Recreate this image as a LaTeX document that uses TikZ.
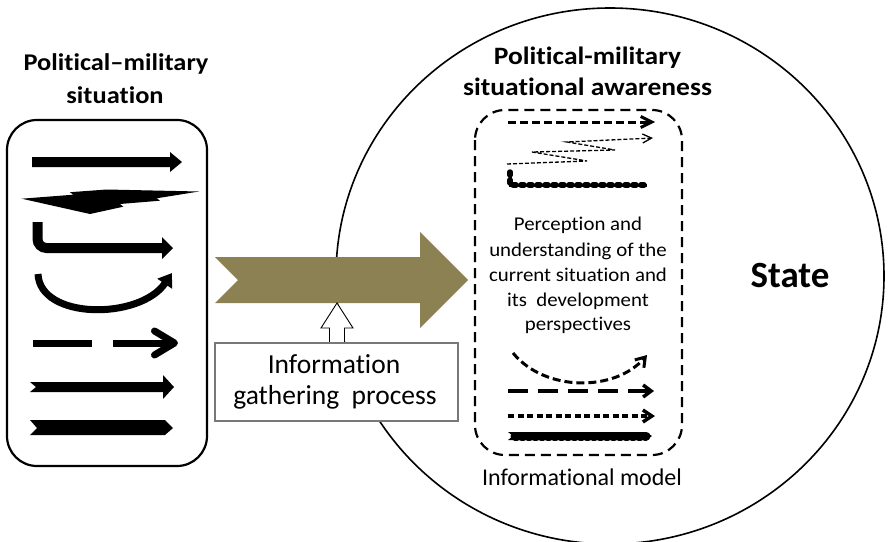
\documentclass[tikz,border=0pt]{standalone}
\usepackage{fontspec}
\usepackage{graphicx}
\setmainfont[Ligatures=NoCommon]{Carlito}
\usetikzlibrary{arrows.meta}
\definecolor{olivearrow}{RGB}{140,129,82}
\definecolor{boxgray}{RGB}{120,120,120}
\newcommand{\widetext}[2]{\scalebox{#1}[1]{#2}}
\begin{document}
\begin{tikzpicture}[x=1pt,y=-1pt,
  boldtitle/.style={font=\fontsize{24}{28}\selectfont\bfseries, anchor=base, inner sep=0},
  righttitle/.style={font=\fontsize{25}{28}\selectfont\bfseries, anchor=base, inner sep=0},
  bodytext/.style={font=\fontsize{19.5}{22}\selectfont, anchor=base, inner sep=0},
  infotext/.style={font=\fontsize{27.5}{30}\selectfont, anchor=base, inner sep=0},
  solidshape/.style={fill=black, draw=none},
  thickbar/.style={line width=7},
  dashline/.style={line width=3, dash pattern=on 8 off 4},
]
\useasboundingbox (0,0) rectangle (889,541);

% ---------- State circle ----------
\draw[line width=1.6] (610,276) ellipse [x radius=274, y radius=268];
\node[font=\fontsize{37}{40}\selectfont\bfseries, anchor=base, inner sep=0] (state) at (790,287) {State};

% ---------- Left box: political-military situation ----------
\node[boldtitle] (lt1) at (116,70.7) {\widetext{1.1}{Political–military}};
\node[boldtitle] (lt2) at (115,103.3) {\widetext{1.1}{situation}};
\draw[line width=2.2, rounded corners=30] (7,120) rectangle (207,466);

% 1 straight thick arrow
\fill[solidshape] (32,157) -- (170,157) -- (170,152) -- (182,162) -- (170,172) -- (170,167) -- (32,167) -- cycle;
% 2 lightning arrow
\fill[solidshape] (21.7,198.7) -- (73.3,194.7) -- (70,192.2) -- (106.7,189.5) -- (199,191.5)
  -- (156.7,198.3) -- (160,200.7) -- (120,204) -- (123.3,206.7) -- (90,214) -- cycle;
% 3 L-shaped arrow
\draw[line width=10, rounded corners=9] (37.5,222) -- (37.5,248) -- (163,248);
\fill[solidshape] (162,237) -- (173,248) -- (162,259) -- cycle;
% 4 arc arrow
\draw[line width=7, -{Triangle[length=13pt,width=17pt]}] (38,274) .. controls (40,320) and (140,320) .. (172,273);
% 5 dashed arrow
\draw[thickbar] (33,343) -- (92,343);
\draw[thickbar, -{Straight Barb[length=20pt,width=24pt,round]}] (113,343) -- (178,343);
% 6 notched arrow
\fill[solidshape] (30,382) -- (163,382) -- (163,375) -- (174,387) -- (163,399) -- (163,392) -- (30,392) -- (36,387) -- cycle;
% 7 chevron bar
\fill[solidshape] (30,420) -- (165,420) -- (173,428) -- (165,435) -- (30,435) -- (37,428) -- cycle;

% ---------- Big olive arrow ----------
\coordinate (flowtail) at (215,280);
\coordinate (flowtip) at (468,280);
\fill[olivearrow] (215,257) -- (420,257) -- (420,232) -- (flowtip) -- (420,328) -- (420,303) -- (215,303) -- (238,280) -- cycle;

% ---------- Information gathering ----------
\coordinate (hollowtip) at (337,303);
\draw[fill=white, line width=0.9] (hollowtip) -- (353,328) -- (344.5,328) -- (344.5,343) -- (329.5,343) -- (329.5,328) -- (321,328) -- cycle;
\node[draw=boxgray, fill=white, line width=1.2, minimum width=243, minimum height=78, inner sep=0] (info) at (336.5,382) {};
\node[infotext] (info1) at (334,373.3) {Information};
\node[infotext] (info2) at (335,404) {gathering\ \ process};

% ---------- Situational awareness ----------
\node[righttitle] (rt1) at (587.5,64) {\widetext{1.1}{Political-military}};
\node[righttitle] (rt2) at (587.5,95) {\widetext{1.1}{situational awareness}};
\draw[line width=2.2, dash pattern=on 10 off 6, rounded corners=30] (475,110) rectangle (682,455);

% a
\draw[dashline, -{Straight Barb[length=11pt,width=11pt]}] (508,122) -- (655,122);
% b zigzag
\draw[line width=1.3, dash pattern=on 4 off 2, -{Straight Barb[length=9pt,width=9pt]}]
  (507,164) -- (587,161) -- (532,152) -- (615,150) -- (567,142) -- (653,138);
% c beaded L
\draw[line width=3] (510,172) -- (510,185) -- (647,185);
\draw[line width=5.5, dash pattern=on 3 off 5, line cap=round] (510,172) -- (510,185) -- (647,185);

\node[bodytext] (p1) at (578,230.7) {\widetext{1.07}{Perception and}};
\node[bodytext] (p2) at (578,256) {\widetext{1.07}{understanding of the}};
\node[bodytext] (p3) at (578,281) {\widetext{1.07}{current situation and}};
\node[bodytext] (p4) at (578,306) {\widetext{1.07}{its\ \ development}};
\node[bodytext] (p5) at (578,330.7) {\widetext{1.07}{perspectives}};

% d dashed arc
\draw[dashline, -{Straight Barb[length=9pt,width=12pt]}] (513,353) .. controls (545,392) and (615,392) .. (647,355);
% e long dashed
\draw[line width=3.5, dash pattern=on 20 off 10, -{Straight Barb[length=8pt,width=12pt]}] (508,391) -- (654,391);
% f short dashed
\draw[line width=3.5, dash pattern=on 6 off 3.5, -{Straight Barb[length=9pt,width=12pt]}] (508,416) -- (655,416);
% g beaded bar
\fill[solidshape] (508,432) -- (646,432) -- (652,436) -- (646,440) -- (508,440) -- (513,436) -- cycle;
\draw[line width=9, dash pattern=on 2 off 4.5, line cap=round] (515,436) -- (646,436);

\node[font=\fontsize{24}{26}\selectfont, anchor=base, inner sep=0] (model) at (582,485) {Informational model};
\end{tikzpicture}
\end{document}
